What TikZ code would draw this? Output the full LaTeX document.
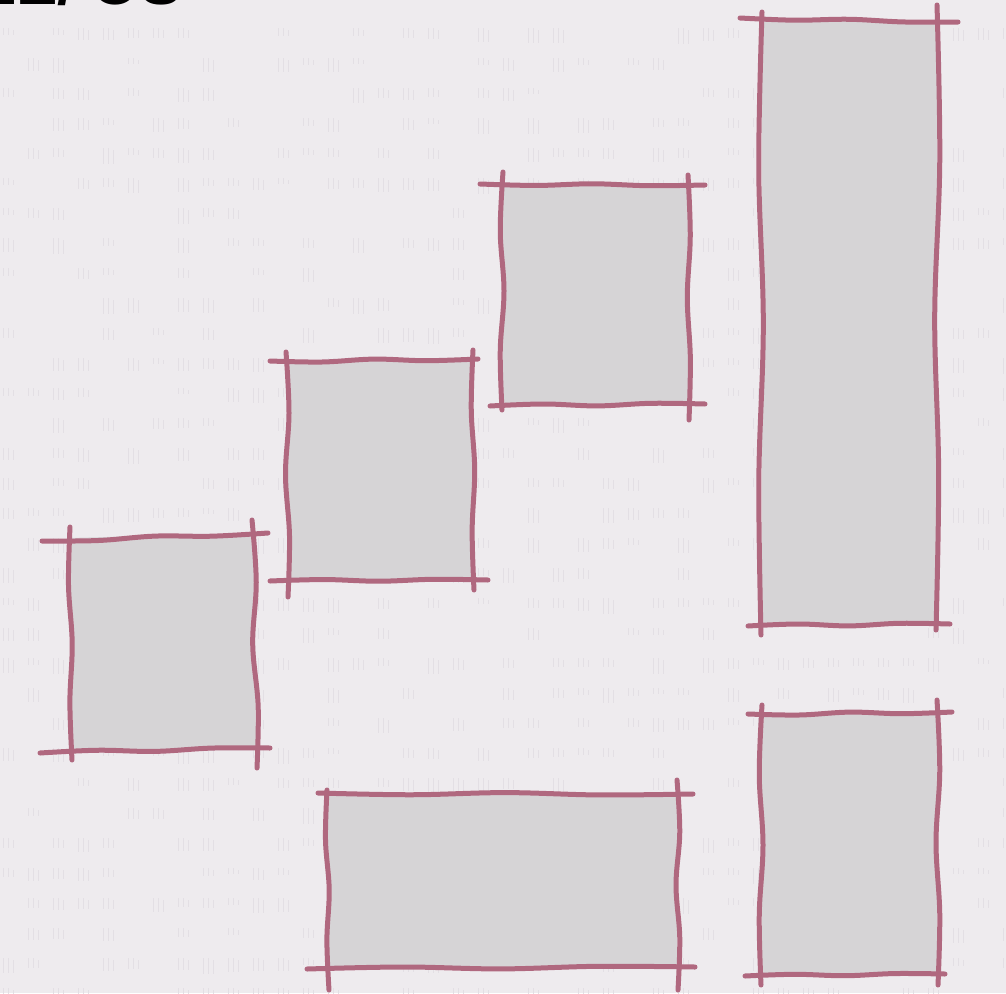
\documentclass[tikz,border=0pt]{standalone}
\usepackage{fontspec}
\setmainfont{Liberation Sans}
\definecolor{bgc}{HTML}{EEEBEE}
\definecolor{texc}{HTML}{E3DFE4}
\definecolor{boxc}{HTML}{D6D4D6}
\definecolor{edgec}{HTML}{B0687F}
\tikzset{
  edge/.style={draw=edgec, line width=5pt, line cap=round, line join=round},
  boxfill/.style={fill=boxc, draw=none},
  tex/.style={draw=texc, line width=1pt}
}
\newcommand\skH[5]{\draw[edge] plot[smooth,tension=.6] coordinates {(#1,#2) ({#1+.25*(#3-#1)},{#2+.25*(#4-#2)+(#5)}) ({#1+.5*(#3-#1)},{#2+.5*(#4-#2)-.6*(#5)}) ({#1+.75*(#3-#1)},{#2+.75*(#4-#2)+.8*(#5)}) (#3,#4)};}
\newcommand\skV[5]{\draw[edge] plot[smooth,tension=.6] coordinates {(#1,#2) ({#1+.25*(#3-#1)+(#5)},{#2+.25*(#4-#2)}) ({#1+.5*(#3-#1)-.6*(#5)},{#2+.5*(#4-#2)}) ({#1+.75*(#3-#1)+.8*(#5)},{#2+.75*(#4-#2)}) (#3,#4)};}
\begin{document}
\begin{tikzpicture}[x=1pt,y=-1pt]
\path[fill=bgc] (0,0) rectangle (1006,993);
\useasboundingbox (0,0) rectangle (1006,993);
% faint background texture (columns of printed text)
\pgfmathsetseed{7}
\foreach \r in {0,...,33}{
  \foreach \c in {0,...,40}{
    \pgfmathsetmacro\q{rnd}
    \ifdim\q pt>0.45pt
      \pgfmathsetmacro\h{6+10*rnd}
      \draw[tex] ({\c*25+3},{\r*30+28}) -- ++(0,\h)
                 ({\c*25+8},{\r*30+28}) -- ++(0,\h)
                 ({\c*25+13},{\r*30+30}) -- ++(0,{\h-2});
    \fi
  }
}
% cut-off title
\begin{scope}
\clip (0,0) rectangle (400,7);
\node[anchor=base west, inner sep=0pt, font=\fontsize{62}{62}\selectfont\bfseries] (title) at (-22,5) {LE/ OS};
\end{scope}
% box 1 (left)
\fill[boxfill] (70,538) -- (254,533) -- (256,750) -- (72,750) -- cycle;
\skH{42}{541}{268}{533}{1.5}
\skH{40}{753}{270}{748}{-1.5}
\skV{70}{527}{72}{760}{-2}
\skV{252}{520}{257}{768}{3}
% box 2 (middle left)
\fill[boxfill] (287,361) -- (473,360) -- (473,580) -- (288,580) -- cycle;
\skH{270}{361}{478}{359}{1.5}
\skH{270}{581}{488}{580}{-1.2}
\skV{286}{352}{288}{597}{2.5}
\skV{473}{350}{474}{590}{-2}
% box 3 (upper middle)
\fill[boxfill] (503,185) -- (688,185) -- (688,405) -- (503,405) -- cycle;
\skH{480}{184}{705}{185}{1.2}
\skH{490}{406}{705}{404}{-1.5}
\skV{503}{172}{502}{410}{-2.5}
\skV{688}{175}{689}{420}{2}
% box 4 (tall right)
\fill[boxfill] (762,20) -- (937,20) -- (937,625) -- (762,625) -- cycle;
\skH{740}{18}{958}{22}{1.2}
\skH{748}{626}{950}{624}{-1.5}
\skV{762}{12}{761}{635}{-3}
\skV{937}{5}{936}{630}{3}
% box 5 (bottom right)
\fill[boxfill] (762,713) -- (937,713) -- (937,975) -- (762,975) -- cycle;
\skH{748}{714}{952}{712}{1.5}
\skH{745}{976}{945}{974}{-1.2}
\skV{762}{705}{761}{985}{-2.5}
\skV{937}{700}{938}{985}{2.5}
% box 6 (bottom middle)
\fill[boxfill] (327,793) -- (677,793) -- (677,968) -- (327,968) -- cycle;
\skH{318}{793}{693}{794}{1.5}
\skH{307}{969}{695}{967}{-1.5}
\skV{327}{790}{329}{990}{-2}
\skV{677}{780}{678}{990}{2.5}
\end{tikzpicture}
\end{document}
